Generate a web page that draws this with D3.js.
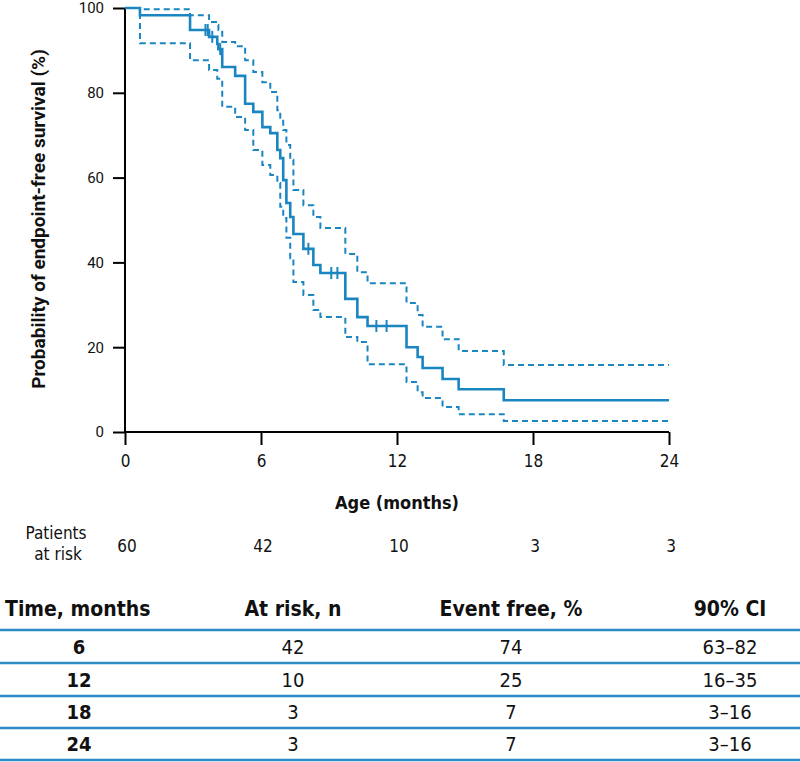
<!DOCTYPE html>
<html>
<head>
<meta charset="utf-8">
<script src="https://cdn.jsdelivr.net/npm/d3@7"></script>
<style>
  html, body { margin: 0; padding: 0; background: #fff; }
  svg { display: block; }
  .cond { font-family: 'Liberation Sans Narrow', 'DejaVu Sans Condensed', 'Roboto', sans-serif; }
  .rob { font-family: 'Roboto', 'Liberation Sans', sans-serif; }
</style>
</head>
<body>
<svg id="chart" width="800" height="762"></svg>
<script>
// ---- data ----
const xTicks = [0, 6, 12, 18, 24];
const yTicks = [0, 20, 40, 60, 80, 100];
const eventTimes = [0.66, 2.87, 3.71, 4.07, 4.12, 4.29, 4.86, 5.30, 5.66, 6.06,
  6.41, 6.72, 6.85, 6.98, 7.12, 7.29, 7.43, 7.87, 8.31, 8.62,
  9.72, 10.25, 10.70, 12.42, 12.91, 13.13, 14.01, 14.72, 16.71];
const survival = [98.3, 94.8, 93.2, 91.5, 90.3, 86.1, 84.0, 77.4, 75.5, 71.9,
  70.5, 66.5, 64.6, 59.4, 54.0, 50.7, 46.7, 43.2, 39.4, 37.5,
  31.4, 27.1, 25.0, 20.0, 17.7, 15.1, 12.5, 10.1, 7.5];
const upperCI = [99.7, 98.3, 96.7, 96.0, 94.8, 92.0, 91.0, 87.7, 84.9, 82.5,
  80.2, 75.9, 74.1, 71.2, 67.7, 64.2, 57.1, 53.5, 50.7, 48.1,
  42.0, 37.7, 35.1, 30.4, 27.6, 24.8, 21.9, 19.1, 15.8];
const lowerCI = [91.7, 87.7, 85.4, 83.3, 83.3, 76.7, 74.3, 71.2, 66.5, 63.0,
  60.6, 58.7, 53.1, 50.5, 45.8, 41.0, 35.4, 32.3, 28.8, 27.1,
  22.4, 21.2, 16.0, 11.8, 9.4, 8.0, 5.9, 4.2, 2.6];
const censorTimes = [3.55, 3.65, 3.85, 4.2, 8.09, 9.1, 9.37, 11.09, 11.54];
const riskTimes = [0, 6, 12, 18, 24];
const atRisk = [60, 42, 10, 3, 3];

const tableHeaders = ["Time, months", "At risk, n", "Event free, %", "90% CI"];
const tableTimes = [6, 12, 18, 24];
const tableAtRisk = [42, 10, 3, 3];
const tableEventFree = [74, 25, 7, 7];
const tableCI = ["63–82", "16–35", "3–16", "3–16"];

// ---- drawing ----
const blue = "#1a86c1";
const svg = d3.select("#chart");
const x = d3.scaleLinear().domain([0, 24]).range([125, 669]);
const y = d3.scaleLinear().domain([0, 100]).range([432, 8]);

function stepPoints(vals) {
  const pts = [[0, 100]];
  let prev = 100;
  eventTimes.forEach((t, i) => {
    pts.push([t, prev]);
    pts.push([t, vals[i]]);
    prev = vals[i];
  });
  pts.push([24, prev]);
  return pts;
}
function stepValueAt(t) {
  let v = 100;
  eventTimes.forEach((et, i) => { if (et <= t) v = survival[i]; });
  return v;
}
const line = d3.line().x(d => x(d[0])).y(d => y(d[1]));

// axes
const yAxis = d3.axisLeft(y).tickValues(yTicks).tickSize(12).tickPadding(9);
const gy = svg.append("g").attr("transform", "translate(125,0)").call(yAxis);
gy.select(".domain").attr("stroke", "#000").attr("stroke-width", 2).attr("d", "M0,8V432");
gy.selectAll(".tick line").attr("stroke", "#000").attr("stroke-width", 2);
gy.selectAll(".tick text").attr("class", "rob").attr("font-size", 15).attr("fill", "#111");

const xAxis = d3.axisBottom(x).tickValues(xTicks).tickSize(13).tickPadding(10);
const gx = svg.append("g").attr("transform", "translate(0,432)").call(xAxis);
gx.select(".domain").attr("stroke", "#000").attr("stroke-width", 2).attr("d", "M125,0H669");
gx.selectAll(".tick line").attr("stroke", "#000").attr("stroke-width", 2);
gx.selectAll(".tick text").attr("class", "cond").attr("font-size", 17).attr("fill", "#111");

// CI lines
[upperCI, lowerCI].forEach(vals => {
  svg.append("path").attr("d", line(stepPoints(vals)))
    .attr("fill", "none").attr("stroke", blue).attr("stroke-width", 2)
    .attr("stroke-dasharray", "6,4");
});
// survival curve
svg.append("path").attr("d", line(stepPoints(survival)))
  .attr("fill", "none").attr("stroke", blue).attr("stroke-width", 2.6);
// censor marks
svg.selectAll(".cens").data(censorTimes).enter().append("line")
  .attr("x1", d => x(d)).attr("x2", d => x(d))
  .attr("y1", d => y(stepValueAt(d)) - 6).attr("y2", d => y(stepValueAt(d)) + 6)
  .attr("stroke", blue).attr("stroke-width", 2);

// axis titles
const yTitle = svg.append("text").attr("class", "rob")
  .attr("transform", "translate(45,219) rotate(-90)")
  .attr("text-anchor", "middle").attr("font-size", 16.5).attr("font-weight", "bold")
  .attr("fill", "#111").text("Probability of endpoint-free survival (%)");
const tl = yTitle.node().getComputedTextLength();
if (tl > 0) yTitle.attr("font-size", Math.min(19, 16.5 * 372 / tl));

svg.append("text").attr("class", "cond")
  .attr("x", 397).attr("y", 509).attr("text-anchor", "middle")
  .attr("font-size", 18).attr("font-weight", "bold").attr("fill", "#111")
  .text("Age (months)");

// patients at risk
svg.append("text").attr("class", "cond").attr("x", 56).attr("y", 539)
  .attr("text-anchor", "middle").attr("font-size", 17).attr("fill", "#111").text("Patients");
svg.append("text").attr("class", "cond").attr("x", 58).attr("y", 560)
  .attr("text-anchor", "middle").attr("font-size", 17).attr("fill", "#111").text("at risk");
svg.selectAll(".risk").data(riskTimes).enter().append("text")
  .attr("class", "cond").attr("x", (d) => x(d) + 2).attr("y", 552)
  .attr("text-anchor", "middle").attr("font-size", 17).attr("fill", "#111")
  .text((d, i) => atRisk[i]);

// table
const colX = [5, 293, 511, 730];
const colAnchor = ["start", "middle", "middle", "middle"];
svg.selectAll(".th").data(tableHeaders).enter().append("text")
  .attr("class", "cond").attr("x", (d, i) => colX[i]).attr("y", 616)
  .attr("text-anchor", (d, i) => colAnchor[i])
  .attr("font-size", 21).attr("font-weight", "bold").attr("fill", "#111").text(d => d);
const lineY = [630, 663, 696, 728, 760];
svg.selectAll(".tl").data(lineY).enter().append("line")
  .attr("x1", 0).attr("x2", 800).attr("y1", d => d).attr("y2", d => d)
  .attr("stroke", "#2a8bc5").attr("stroke-width", 2.5);
const rowY = [654, 687, 719, 751];
tableTimes.forEach((t, i) => {
  const cells = [t, tableAtRisk[i], tableEventFree[i], tableCI[i]];
  cells.forEach((c, j) => {
    svg.append("text").attr("class", "cond")
      .attr("x", j === 0 ? 79 : colX[j]).attr("y", rowY[i])
      .attr("text-anchor", "middle").attr("font-size", 20)
      .attr("font-weight", j === 0 ? "bold" : "normal")
      .attr("fill", "#111").text(c);
  });
});
</script>
</body>
</html>
